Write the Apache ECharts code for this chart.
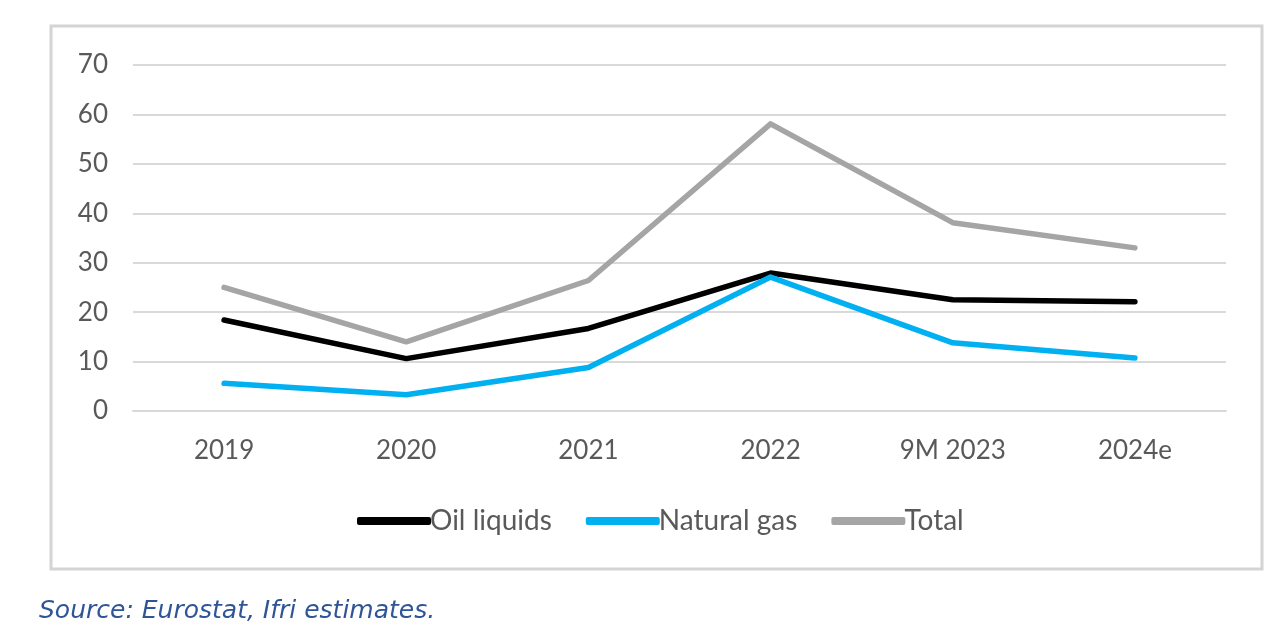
<!DOCTYPE html>
<html>
<head>
<meta charset="utf-8">
<script src="https://cdn.jsdelivr.net/npm/echarts@6/dist/echarts.min.js"></script>
<style>
html,body{margin:0;padding:0;background:#fff;}
#chart{width:1286px;height:642px;}
</style>
</head>
<body>
<div id="chart"></div>
<script>
const categories = ['2019', '2020', '2021', '2022', '9M 2023', '2024e'];
const oilLiquids = [18.4, 10.6, 16.7, 27.9, 22.5, 22.1];
const naturalGas = [5.6, 3.3, 8.8, 27.1, 13.8, 10.7];
const total = [25.0, 14.0, 26.4, 58.1, 38.1, 33.0];
const yTicks = { min: 0, max: 70, interval: 10 };
const sourceText = 'Source: Eurostat, Ifri estimates.';

const chart = echarts.init(document.getElementById('chart'));
const labelFont = 'Lato, "Open Sans", sans-serif';
function lineSeries(name, data, color) {
  return {
    name: name, type: 'line', data: data, symbol: 'none',
    lineStyle: { color: color, width: 5.5, cap: 'round', join: 'round' },
    itemStyle: { color: color },
    emphasis: { disabled: true }
  };
}
chart.setOption({
  animation: false,
  backgroundColor: '#ffffff',
  grid: { left: 133, right: 60, top: 65, bottom: 231 },
  graphic: [
    { type: 'rect', shape: { x: 51, y: 26, width: 1211, height: 543 },
      style: { fill: 'none', stroke: '#d4d4d4', lineWidth: 3 } },
    { type: 'text', left: 39, top: 599,
      style: { text: sourceText, fill: '#2F5597', font: 'italic 25px "DejaVu Sans", Verdana, sans-serif' } }
  ],
  legend: {
    data: [
      { name: 'Oil liquids', icon: 'roundRect' },
      { name: 'Natural gas', icon: 'roundRect' },
      { name: 'Total', icon: 'roundRect' }
    ],
    left: 352, top: 502,
    itemWidth: 74, itemHeight: 8, itemGap: 34,
    textStyle: { fontFamily: labelFont, fontSize: 28, color: '#595959', padding: [0, 0, 0, -6] }
  },
  xAxis: {
    type: 'category', data: categories, boundaryGap: true,
    axisLine: { lineStyle: { color: '#d9d9d9', width: 2 } },
    axisTick: { show: false },
    axisLabel: { color: '#595959', fontFamily: labelFont, fontSize: 26, margin: 27 }
  },
  yAxis: {
    type: 'value', min: yTicks.min, max: yTicks.max, interval: yTicks.interval,
    axisLine: { show: false }, axisTick: { show: false },
    splitLine: { lineStyle: { color: '#d9d9d9', width: 2 } },
    axisLabel: { color: '#595959', fontFamily: labelFont, fontSize: 26, margin: 25 }
  },
  series: [
    lineSeries('Oil liquids', oilLiquids, '#000000'),
    lineSeries('Natural gas', naturalGas, '#00B0F0'),
    lineSeries('Total', total, '#A5A5A5')
  ]
});
</script>
</body>
</html>
